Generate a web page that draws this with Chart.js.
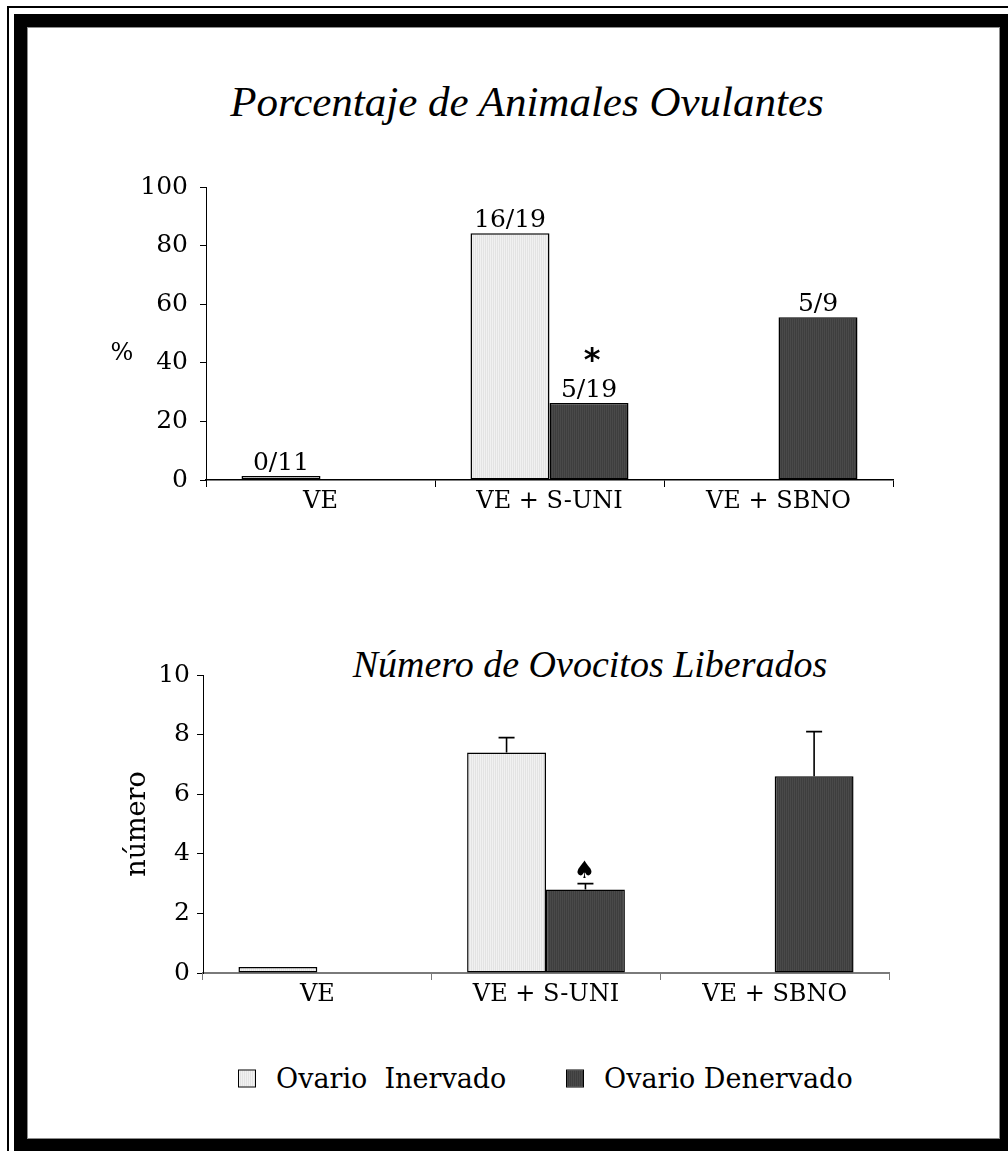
<!DOCTYPE html>
<html>
<head>
<meta charset="utf-8">
<script src="https://cdn.jsdelivr.net/npm/chart.js@4.4.1/dist/chart.umd.min.js"></script>
<style>
  html, body { margin: 0; padding: 0; background: #fff; }
  body { width: 1008px; height: 1151px; position: relative; overflow: hidden; font-family: 'DejaVu Serif', serif; color: #000; }
  .marco-fino { position: absolute; left: 7px; top: 6px; width: 1200px; height: 1300px; border-left: 2px solid #000; border-top: 2px solid #000; }
  .marco-grueso { position: absolute; left: 14px; top: 14px; width: 973px; height: 1112px; border: 13px solid #000; }
  .marco-interior { position: absolute; left: 0; top: 0; right: 0; bottom: 0; border: 1px solid #8c8c8c; }
  .titulo { position: absolute; font-family: 'Liberation Serif', serif; font-style: italic; white-space: nowrap; transform: translate(-50%, -50%); line-height: 1; }
  canvas { position: absolute; left: 0; }
  .leyenda { position: absolute; top: 1078px; left: 0; width: 1008px; height: 0; font-family: 'DejaVu Serif', serif; font-size: 27px; }
  .item { position: absolute; display: flex; align-items: center; white-space: pre; transform: translateY(-50%); line-height: 1; }
  .caja { width: 18px; height: 18px; border: 1.5px solid #000; margin-right: 20px; box-sizing: border-box; }
</style>
</head>
<body>
<div class="marco-fino"></div>
<div class="marco-grueso"><div class="marco-interior"></div></div>

<div id="titulo1" class="titulo" style="left:527px; top:101px; font-size:43px;"></div>
<canvas id="graficaPorcentaje" width="1008" height="370" style="top:160px;"></canvas>

<div id="titulo2" class="titulo" style="left:590px; top:664px; font-size:38px;"></div>
<canvas id="graficaOvocitos" width="1008" height="373" style="top:650px;"></canvas>

<div class="leyenda">
  <div class="item" style="left:238px;"><span class="caja" id="cajaInervado"></span><span id="textoInervado"></span></div>
  <div class="item" style="left:566px;"><span class="caja" id="cajaDenervado"></span><span id="textoDenervado"></span></div>
</div>

<script>
// Grupos experimentales
const categorias = ['VE', 'VE + S-UNI', 'VE + SBNO'];
const series = ['Ovario  Inervado', 'Ovario Denervado'];

// Animales ovulantes / total de animales de cada grupo
const ovulantesInervado = [0, 16, null];
const totalInervado = [11, 19, null];
const ovulantesDenervado = [null, 5, 5];
const totalDenervado = [null, 19, 9];
const marcasPorcentaje = [null, '*', null];

// Número de ovocitos liberados (media) y error estándar
const ovocitosInervado = [0.2, 7.4, null];
const errorInervado = [null, 0.5, null];
const ovocitosDenervado = [null, 2.8, 6.6];
const errorDenervado = [null, 0.2, 1.5];
const marcasOvocitos = [null, '\u2660', null];

// Marcas de los ejes
const ticksPorcentaje = [0, 20, 40, 60, 80, 100];
const ticksNumero = [0, 2, 4, 6, 8, 10];

// Textos
const tituloPorcentaje = 'Porcentaje de Animales Ovulantes';
const tituloOvocitos = 'N\u00famero de Ovocitos Liberados';
const ejePorcentaje = '%';
const ejeNumero = 'n\u00famero';

document.getElementById('titulo1').textContent = tituloPorcentaje;
document.getElementById('titulo2').textContent = tituloOvocitos;
document.getElementById('textoInervado').textContent = series[0];
document.getElementById('textoDenervado').textContent = series[1];

const porcentaje = (o, t) => (o == null || t == null) ? null : o / t * 100;
const fraccion = (o, t) => (o == null || t == null) ? null : o + '/' + t;

// Relleno rayado de las barras
function rayado(c1, c2) {
  const p = document.createElement('canvas');
  p.width = 2; p.height = 1;
  const g = p.getContext('2d');
  g.fillStyle = c1; g.fillRect(0, 0, 1, 1);
  g.fillStyle = c2; g.fillRect(1, 0, 1, 1);
  return g.createPattern(p, 'repeat');
}
const rellenoClaro = rayado('#f1f1f1', '#e3e3e3');
const rellenoOscuro = rayado('#4a4a4a', '#3e3e3e');

document.getElementById('cajaInervado').style.background = 'repeating-linear-gradient(90deg,#f1f1f1 0 1px,#e3e3e3 1px 2px)';
document.getElementById('cajaDenervado').style.background = 'repeating-linear-gradient(90deg,#4a4a4a 0 1px,#3e3e3e 1px 2px)';

// Etiquetas, barras de error y marcas de significancia sobre cada barra
const anotaciones = {
  id: 'anotaciones',
  afterDatasetsDraw(chart) {
    const ctx = chart.ctx;
    const ys = chart.scales.y;
    chart.data.datasets.forEach((ds, di) => {
      const meta = chart.getDatasetMeta(di);
      meta.data.forEach((bar, i) => {
        const v = ds.data[i];
        if (v == null) return;
        let tope = bar.y;
        ctx.save();
        ctx.fillStyle = '#000';
        ctx.strokeStyle = '#000';
        ctx.textAlign = 'center';
        ctx.textBaseline = 'alphabetic';
        if (ds.errores && ds.errores[i] != null) {
          const ye = ys.getPixelForValue(v + ds.errores[i]);
          ctx.lineWidth = 1.6;
          ctx.beginPath();
          ctx.moveTo(bar.x, bar.y);
          ctx.lineTo(bar.x, ye);
          ctx.moveTo(bar.x - 8, ye);
          ctx.lineTo(bar.x + 8, ye);
          ctx.stroke();
          tope = ye;
        }
        if (ds.etiquetas && ds.etiquetas[i]) {
          ctx.font = '25px "DejaVu Serif"';
          ctx.fillText(ds.etiquetas[i], bar.x, tope - 6);
          tope = tope - 6 - 19;
        }
        if (ds.marcas && ds.marcas[i]) {
          if (ds.marcas[i] === '*') {
            ctx.font = 'bold 32px "DejaVu Sans"';
            ctx.fillText(ds.marcas[i], bar.x + 3, tope - 8);
          } else {
            ctx.font = '24px "DejaVu Sans"';
            ctx.fillText(ds.marcas[i], bar.x - 1, tope - 6);
          }
        }
        ctx.restore();
      });
    });
  }
};

// Título del eje vertical
const tituloEje = {
  id: 'tituloEje',
  afterDraw(chart, args, opts) {
    if (!opts || !opts.texto) return;
    const { ctx, chartArea } = chart;
    ctx.save();
    ctx.font = opts.fuente;
    ctx.fillStyle = '#000';
    ctx.textAlign = 'center';
    ctx.textBaseline = 'middle';
    ctx.translate(chartArea.left - opts.dx, (chartArea.top + chartArea.bottom) / 2 + opts.dy);
    ctx.rotate(opts.giro);
    ctx.fillText(opts.texto, 0, 0);
    ctx.restore();
  }
};

function crearGrafica(id, datasets, ticks, cfg) {
  return new Chart(document.getElementById(id), {
    type: 'bar',
    data: { labels: categorias, datasets },
    plugins: [anotaciones, tituloEje],
    options: {
      responsive: false,
      animation: false,
      events: [],
      layout: { padding: cfg.padding },
      plugins: {
        legend: { display: false },
        tooltip: { enabled: false },
        tituloEje: cfg.eje
      },
      scales: {
        x: {
          grid: { display: true, drawOnChartArea: false, drawTicks: true, tickLength: 7, color: cfg.colorX, lineWidth: 1, offset: true },
          border: { display: true, color: cfg.colorX, width: cfg.grosorX },
          ticks: { color: '#000', font: { family: 'DejaVu Serif', size: 24 }, padding: 0, maxRotation: 0, autoSkip: false },
          afterFit: s => { s.height = 50; }
        },
        y: {
          min: ticks[0],
          max: ticks[ticks.length - 1],
          afterBuildTicks: s => { s.ticks = ticks.map(v => ({ value: v })); },
          grid: { display: true, drawOnChartArea: false, drawTicks: true, tickLength: 6, color: '#000', lineWidth: 1 },
          border: { display: true, color: '#000', width: 1 },
          ticks: { color: '#000', font: { family: 'DejaVu Serif', size: 25 }, padding: cfg.padY },
          afterFit: s => { s.width = 80; }
        }
      }
    }
  });
}

const estiloBarra = {
  borderColor: '#000',
  borderWidth: 1.5,
  borderSkipped: false,
  minBarLength: 4,
  categoryPercentage: 0.69,
  barPercentage: 1.0
};

crearGrafica('graficaPorcentaje', [
  Object.assign({
    label: series[0],
    data: ovulantesInervado.map((o, i) => porcentaje(o, totalInervado[i])),
    etiquetas: ovulantesInervado.map((o, i) => fraccion(o, totalInervado[i])),
    backgroundColor: rellenoClaro
  }, estiloBarra),
  Object.assign({
    label: series[1],
    data: ovulantesDenervado.map((o, i) => porcentaje(o, totalDenervado[i])),
    etiquetas: ovulantesDenervado.map((o, i) => fraccion(o, totalDenervado[i])),
    marcas: marcasPorcentaje,
    backgroundColor: rellenoOscuro
  }, estiloBarra)
], ticksPorcentaje, {
  padding: { left: 126, right: 115, top: 24, bottom: 0 },
  colorX: '#000', grosorX: 1.5, padY: 12,
  eje: { texto: ejePorcentaje, fuente: '24px "DejaVu Serif"', dx: 84, dy: 20, giro: 0 }
});

crearGrafica('graficaOvocitos', [
  Object.assign({
    label: series[0],
    data: ovocitosInervado,
    errores: errorInervado,
    backgroundColor: rellenoClaro
  }, estiloBarra),
  Object.assign({
    label: series[1],
    data: ovocitosDenervado,
    errores: errorDenervado,
    marcas: marcasOvocitos,
    backgroundColor: rellenoOscuro
  }, estiloBarra)
], ticksNumero, {
  padding: { left: 123, right: 119, top: 25, bottom: 0 },
  colorX: '#7a7a7a', grosorX: 2, padY: 7,
  eje: { texto: ejeNumero, fuente: '27px "DejaVu Serif"', dx: 65, dy: 0, giro: -Math.PI / 2 }
});
</script>
</body>
</html>
